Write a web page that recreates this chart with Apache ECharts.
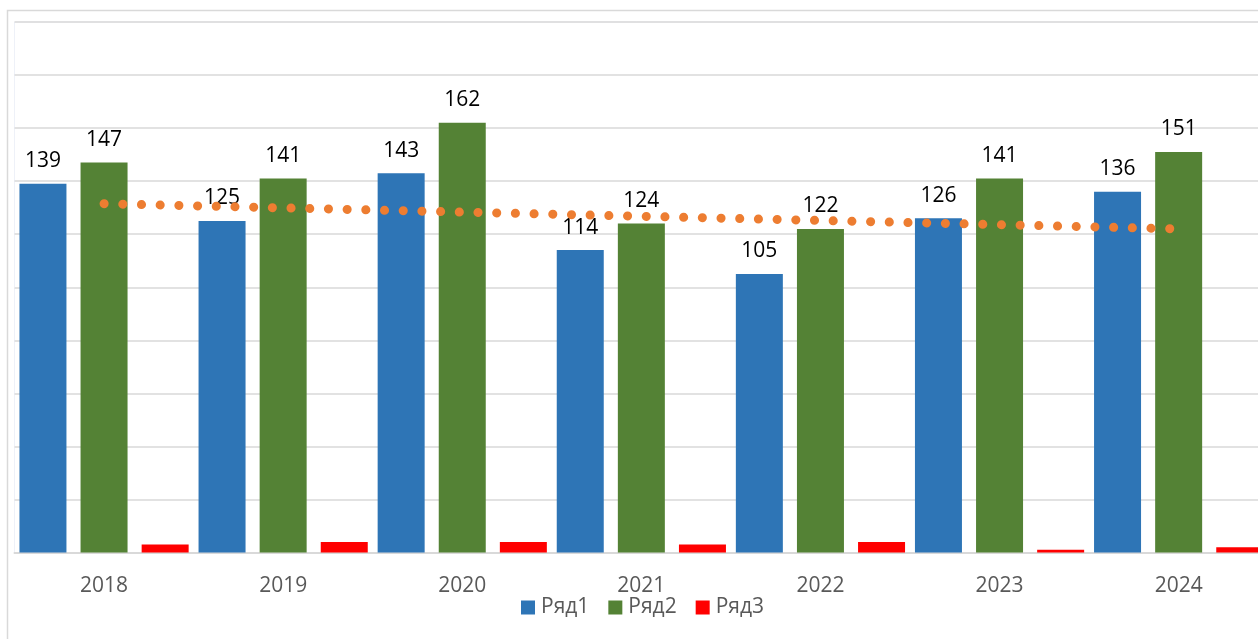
<!DOCTYPE html>
<html>
<head>
<meta charset="utf-8">
<script src="https://cdn.jsdelivr.net/npm/echarts@6/dist/echarts.min.js"></script>
<style>
html, body {margin: 0; padding: 0; background: #fff;}
#chart {width: 1258px; height: 639px;}
</style>
</head>
<body>
<div id="chart"></div>
<script>
// данные с картинки
var years = ['2018', '2019', '2020', '2021', '2022', '2023', '2024'];
var row1 = [139, 125, 143, 114, 105, 126, 136];
var row2 = [147, 141, 162, 124, 122, 141, 151];
var row3 = [3, 4, 4, 3, 4, 1, 2];
// линия тренда (Ряд1), концы
var trend = [131.5, null, null, null, null, null, 122.0];

var myChart = echarts.init(document.getElementById('chart'));

var labelStyle = {
    show: true,
    position: 'top',
    distance: 12,
    color: '#000',
    fontSize: 21,
    fontFamily: 'Open Sans'
};

option = {
    animation: false,
    textStyle: {fontFamily: 'Open Sans'},
    graphic: [
        {
            type: 'rect',
            silent: true,
            shape: {x: 7.5, y: 10.5, width: 1400, height: 800},
            style: {fill: 'none', stroke: '#d9d9d9', lineWidth: 1.5}
        }
    ],
    grid: {
        left: 14.5,
        top: 22,
        width: 1253.7,
        height: 530.5,
        outerBoundsMode: 'none',
        show: true,
        borderColor: '#eef1f8',
        borderWidth: 1
    },
    legend: {
        data: ['Ряд1', 'Ряд2', 'Ряд3'],
        left: 516,
        top: 592,
        icon: 'rect',
        itemWidth: 14,
        itemHeight: 14,
        itemGap: 19,
        textStyle: {
            color: '#595959',
            fontSize: 21,
            fontFamily: 'Open Sans',
            padding: [0, 0, 0, 1]
        }
    },
    xAxis: {
        type: 'category',
        data: years,
        axisLine: {lineStyle: {color: '#d9d9d9', width: 2}},
        axisTick: {show: false},
        axisLabel: {
            color: '#595959',
            fontSize: 21,
            margin: 23
        }
    },
    yAxis: {
        type: 'value',
        min: 0,
        max: 200,
        interval: 20,
        axisLabel: {show: false},
        axisLine: {show: false},
        axisTick: {show: false},
        splitLine: {lineStyle: {color: '#d9d9d9', width: 1.5}}
    },
    series: [
        {
            name: 'Ряд1',
            type: 'bar',
            data: row1,
            barWidth: 47,
            barGap: '30%',
            itemStyle: {color: '#2e75b6'},
            label: labelStyle
        },
        {
            name: 'Ряд2',
            type: 'bar',
            data: row2,
            barWidth: 47,
            barGap: '30%',
            itemStyle: {color: '#548235'},
            label: labelStyle
        },
        {
            name: 'Ряд3',
            type: 'bar',
            data: row3,
            barWidth: 47,
            barGap: '30%',
            itemStyle: {color: '#ff0000'}
        },
        {
            name: 'Тренд',
            type: 'line',
            data: trend,
            connectNulls: true,
            symbol: 'none',
            z: 5,
            lineStyle: {
                color: '#ed7d31',
                width: 9,
                cap: 'round',
                type: [0.1, 18.6]
            }
        }
    ]
};

myChart.setOption(option);
</script>
</body>
</html>
